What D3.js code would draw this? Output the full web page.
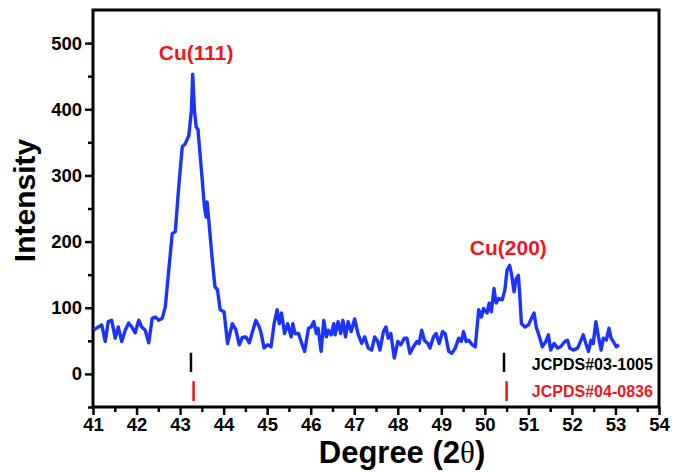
<!DOCTYPE html>
<html>
<head>
<meta charset="utf-8">
<script src="https://cdn.jsdelivr.net/npm/d3@7"></script>
<style>
  body { margin: 0; background: #fff; }
  svg text { font-family: "Liberation Sans", Arial, sans-serif; font-weight: bold; }
</style>
</head>
<body>
<div id="chart"></div>
<script>
// XRD pattern
const twoTheta = [
  41.01, 41.12, 41.20, 41.28, 41.35, 41.43, 41.51, 41.58, 41.66, 41.74, 41.82, 41.89, 41.97,
  42.05, 42.12, 42.20, 42.28, 42.36, 42.43, 42.51, 42.59, 42.66, 42.74, 42.82, 42.89, 42.97,
  43.05, 43.12, 43.20, 43.26, 43.29, 43.33, 43.37, 43.41, 43.49, 43.56, 43.60, 43.62, 43.66,
  43.74, 43.80, 43.86, 43.92, 44.01, 44.09, 44.20, 44.28, 44.36, 44.43, 44.51, 44.59, 44.74,
  44.82, 44.86, 44.93, 45.01, 45.09, 45.16, 45.23, 45.28, 45.33, 45.40, 45.47, 45.55, 45.59,
  45.64, 45.72, 45.78, 45.86, 45.95, 46.01, 46.07, 46.13, 46.17, 46.24, 46.30, 46.36, 46.41,
  46.47, 46.53, 46.56, 46.63, 46.69, 46.74, 46.80, 46.86, 46.93, 47.01, 47.09, 47.17, 47.24,
  47.32, 47.40, 47.47, 47.54, 47.59, 47.67, 47.73, 47.78, 47.84, 47.92, 48.00, 48.07, 48.15,
  48.21, 48.28, 48.36, 48.44, 48.49, 48.55, 48.61, 48.69, 48.74, 48.82, 48.88, 48.95, 49.03,
  49.09, 49.17, 49.24, 49.32, 49.40, 49.46, 49.51, 49.57, 49.63, 49.71, 49.78, 49.86, 49.92,
  49.97, 50.05, 50.10, 50.15, 50.21, 50.26, 50.32, 50.40, 50.46, 50.51, 50.57, 50.61, 50.67,
  50.72, 50.77, 50.80, 50.84, 50.92, 51.00, 51.07, 51.13, 51.18, 51.24, 51.32, 51.40, 51.46,
  51.51, 51.59, 51.67, 51.74, 51.84, 51.90, 51.95, 52.03, 52.13, 52.21, 52.26, 52.32, 52.38,
  52.44, 52.49, 52.55, 52.61, 52.67, 52.72, 52.79, 52.85, 52.90, 52.95, 53.02, 53.08
];
const intensity = [
  66, 71, 74, 49, 79, 81, 54, 71, 49, 66, 77, 71, 62,
  81, 71, 66, 47, 84, 86, 81, 84, 101, 157, 212, 215, 283,
  343, 348, 360, 398, 453, 398, 373, 370, 308, 252, 237, 260, 232,
  172, 132, 127, 97, 94, 46, 76, 67, 44, 55, 56, 47, 81,
  71, 62, 39, 44, 41, 76, 97, 76, 92, 61, 76, 56, 76,
  61, 61, 49, 34, 69, 71, 79, 61, 69, 34, 81, 56, 66,
  59, 76, 59, 79, 61, 81, 56, 79, 64, 83, 60, 46, 56,
  39, 36, 56, 49, 36, 64, 71, 54, 61, 24, 49, 44, 54,
  54, 31, 41, 49, 46, 66, 51, 46, 39, 56, 61, 46, 64,
  61, 34, 31, 39, 54, 49, 64, 49, 51, 44, 41, 97, 86,
  99, 92, 107, 94, 129, 107, 114, 112, 127, 157, 164, 152, 124,
  144, 149, 122, 76, 71, 74, 84, 92, 71, 59, 41, 49, 59,
  36, 46, 39, 41, 49, 51, 39, 36, 39, 51, 59, 46, 34,
  51, 46, 79, 56, 36, 54, 51, 69, 54, 49, 41, 44
];

// reference pattern sticks
const refBlack = [43.25, 50.44];
const refRed = [43.31, 50.50];
const refLabels = ["JCPDS#03-1005", "JCPDS#04-0836"];

const peakLabels = ["Cu(111)", "Cu(200)"];
const peakPos = [43.3, 50.47];
const peakLabelY = [475, 180];

const xTicks = d3.range(41, 55, 1);
const xMinor = d3.range(41.5, 54, 1);
const yTicks = [0, 100, 200, 300, 400, 500];
const yMinor = [-50, 50, 150, 250, 350, 450];

const width = 681, height = 472;
const margin = { top: 10, right: 22, bottom: 65, left: 93 };
const blue = '#1a33ff', red = '#f0161c';

const svg = d3.select('#chart').append('svg')
  .attr('width', width)
  .attr('height', height);

const x = d3.scaleLinear().domain([41, 54]).range([margin.left, width - margin.right]);
const y = d3.scaleLinear().domain([-50, 550]).range([height - margin.bottom, margin.top]);

// axes
const xAxis = svg.append('g')
  .attr('transform', `translate(0,${height - margin.bottom})`)
  .call(d3.axisBottom(x).tickValues(xTicks).tickSize(8).tickSizeOuter(0).tickPadding(3).tickFormat(d3.format('d')));
xAxis.selectAll('.tick text').style('font-size', '18.5px').attr('fill', '#000');

svg.append('g')
  .attr('transform', `translate(0,${height - margin.bottom})`)
  .call(d3.axisBottom(x).tickValues(xMinor).tickSize(5).tickSizeOuter(0).tickFormat(''))
  .select('.domain').remove();

const yAxis = svg.append('g')
  .attr('transform', `translate(${margin.left},0)`)
  .call(d3.axisLeft(y).tickValues(yTicks).tickSize(8).tickSizeOuter(0).tickPadding(3));
yAxis.selectAll('.tick text').style('font-size', '18.5px').attr('fill', '#000');

svg.append('g')
  .attr('transform', `translate(${margin.left},0)`)
  .call(d3.axisLeft(y).tickValues(yMinor).tickSize(5).tickSizeOuter(0).tickFormat(''))
  .select('.domain').remove();

svg.selectAll('.tick line').attr('stroke', '#000').attr('stroke-width', 2.5);
svg.selectAll('.domain').remove();

// frame
svg.append('rect')
  .attr('x', margin.left)
  .attr('y', margin.top)
  .attr('width', width - margin.left - margin.right)
  .attr('height', height - margin.top - margin.bottom)
  .attr('fill', 'none')
  .attr('stroke', '#000')
  .attr('stroke-width', 3);

// pattern
const points = twoTheta.map((t, i) => [t, intensity[i]]);
const line = d3.line().x(d => x(d[0])).y(d => y(d[1]));

svg.append('path')
  .datum(points)
  .attr('d', line)
  .attr('fill', 'none')
  .attr('stroke', blue)
  .attr('stroke-width', 3.4)
  .attr('stroke-linejoin', 'round');

// reference sticks
svg.selectAll('.ref-black')
  .data(refBlack)
  .enter().append('line')
  .attr('x1', d => x(d)).attr('x2', d => x(d))
  .attr('y1', y(3)).attr('y2', y(32))
  .attr('stroke', '#000').attr('stroke-width', 2.5);

svg.selectAll('.ref-red')
  .data(refRed)
  .enter().append('line')
  .attr('x1', d => x(d)).attr('x2', d => x(d))
  .attr('y1', y(-41)).attr('y2', y(-11))
  .attr('stroke', red).attr('stroke-width', 2.5);

svg.selectAll('.ref-label')
  .data(refLabels)
  .enter().append('text')
  .attr('x', x(51.08))
  .attr('y', (d, i) => i === 0 ? y(6) : y(-35))
  .attr('fill', (d, i) => i === 0 ? '#000' : red)
  .style('font-size', '16px')
  .text(d => d);

// peak labels
svg.selectAll('.peak')
  .data(peakLabels)
  .enter().append('text')
  .attr('x', (d, i) => x(peakPos[i]) + 3)
  .attr('y', (d, i) => y(peakLabelY[i]))
  .attr('text-anchor', 'middle')
  .attr('fill', red)
  .style('font-size', '21px')
  .text(d => d);

// axis titles
const xt = svg.append('text')
  .attr('x', (margin.left + width - margin.right) / 2 + 26)
  .attr('y', 463)
  .attr('text-anchor', 'middle')
  .style('font-size', '31px');
xt.append('tspan').text('Degree (2');
xt.append('tspan').text('θ')
  .style('font-family', '"Liberation Serif", "Times New Roman", serif')
  .style('font-weight', 'normal');
xt.append('tspan').text(')');

svg.append('text')
  .attr('transform', `translate(35,${(margin.top + height - margin.bottom) / 2 - 8}) rotate(-90)`)
  .attr('text-anchor', 'middle')
  .style('font-size', '30px')
  .text('Intensity');
</script>
</body>
</html>
